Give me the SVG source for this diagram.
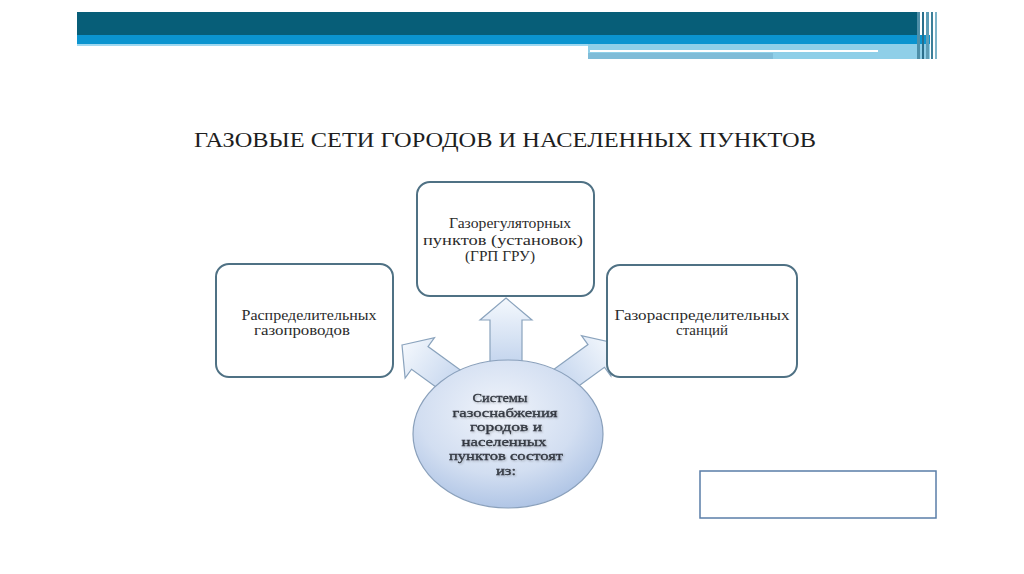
<svg xmlns="http://www.w3.org/2000/svg" width="1024" height="574" viewBox="0 0 1024 574">
<defs>
<style>
.box{fill:#ffffff;stroke:#4f7184;stroke-width:2}
.ttl{font-family:"Liberation Serif","DejaVu Serif","Times New Roman",serif;font-size:22px;fill:#1e1e1e;text-anchor:middle}
.t{font-family:"Liberation Serif","DejaVu Serif","Times New Roman",serif;font-size:14.5px;fill:#2b2b2b;text-anchor:middle}
.c{font-family:"Liberation Serif","DejaVu Serif","Times New Roman",serif;font-size:13px;fill:#353a43;stroke:#353a43;stroke-width:0.35;text-anchor:middle}
.arr{fill:url(#ag);stroke:#8aa3bd;stroke-width:1.2}
</style>
<linearGradient id="ag" x1="0" y1="0" x2="0" y2="1">
<stop offset="0" stop-color="#f4f8fd"/>
<stop offset="1" stop-color="#b9cdea"/>
</linearGradient>
<radialGradient id="cg" cx="0.45" cy="0.35" r="0.7">
<stop offset="0" stop-color="#f0f4fb"/>
<stop offset="0.6" stop-color="#d2def1"/>
<stop offset="1" stop-color="#a9c0e3"/>
</radialGradient>
<filter id="sh" x="-20%" y="-20%" width="140%" height="140%">
<feGaussianBlur in="SourceAlpha" stdDeviation="1"/>
<feOffset dx="1" dy="1.2"/>
<feComponentTransfer><feFuncA type="linear" slope="0.25"/></feComponentTransfer>
<feMerge><feMergeNode/><feMergeNode in="SourceGraphic"/></feMerge>
</filter>
<path id="arrUp" d="M0,0 L26,22 L16,22 L16,80 L-16,80 L-16,22 L-26,22 Z"/>
<path id="arrD" d="M0,0 L25,22 L14,22 L14,85 L-14,85 L-14,22 L-25,22 Z"/>
</defs>
<rect width="1024" height="574" fill="#ffffff"/>
<g id="header">
<rect x="77" y="12" width="840" height="23" fill="#075e78"/>
<rect x="77" y="35" width="853" height="9" fill="#0b94cf"/>
<rect x="77" y="44" width="511" height="2" fill="#9fd8f0"/>
<rect x="588" y="44" width="342" height="15" fill="#8fcfe8"/>
<rect x="590" y="50" width="288" height="2" fill="#ffffff"/>
<rect x="588" y="53" width="185" height="6" fill="#7fbcd8"/>
<rect x="917" y="12" width="3" height="47" fill="#4e8fa8"/>
<rect x="922" y="12" width="2" height="47" fill="#2a6f8c"/>
<rect x="926" y="12" width="3" height="47" fill="#5d9db6"/>
<rect x="931" y="12" width="2" height="47" fill="#3c7f99"/>
<rect x="935" y="12" width="2" height="47" fill="#7db4c9"/>
</g>
<text id="title" class="ttl" x="505" y="147" textLength="622" lengthAdjust="spacingAndGlyphs">ГАЗОВЫЕ СЕТИ ГОРОДОВ И НАСЕЛЕННЫХ ПУНКТОВ</text>
<g id="connectors">
<use href="#arrUp" class="arr" transform="translate(506,298)"/>
<use href="#arrD" class="arr" transform="translate(402,345) rotate(-54)"/>
<use href="#arrD" class="arr" transform="translate(614,343) rotate(54)"/>
</g>
<g id="node-grp">
<rect class="box" x="417" y="182" width="177" height="114" rx="13"/>
<text class="t" x="510" y="228" textLength="122" lengthAdjust="spacingAndGlyphs">Газорегуляторных</text>
<text class="t" x="503" y="245" textLength="160" lengthAdjust="spacingAndGlyphs">пунктов (установок)</text>
<text class="t" x="500" y="261" textLength="70" lengthAdjust="spacingAndGlyphs">(ГРП ГРУ)</text>
</g>
<g id="node-pipes">
<rect class="box" x="216" y="264" width="177" height="113" rx="13"/>
<text class="t" x="309" y="320" textLength="135" lengthAdjust="spacingAndGlyphs">Распределительных</text>
<text class="t" x="302" y="335" textLength="96" lengthAdjust="spacingAndGlyphs">газопроводов</text>
</g>
<g id="node-stations">
<rect class="box" x="607" y="265" width="190" height="112" rx="13"/>
<text class="t" x="702" y="320" textLength="175" lengthAdjust="spacingAndGlyphs">Газораспределительных</text>
<text class="t" x="702" y="335" textLength="52" lengthAdjust="spacingAndGlyphs">станций</text>
</g>
<g id="node-center">
<ellipse cx="508" cy="434" rx="95" ry="74" fill="url(#cg)" stroke="#8aa0bb" stroke-width="1.2"/>
<g filter="url(#sh)">
<text class="c" x="500" y="402" textLength="55" lengthAdjust="spacingAndGlyphs">Системы</text>
<text class="c" x="505" y="416.5" textLength="105" lengthAdjust="spacingAndGlyphs">газоснабжения</text>
<text class="c" x="506" y="431" textLength="72" lengthAdjust="spacingAndGlyphs">городов и</text>
<text class="c" x="504" y="445.5" textLength="85" lengthAdjust="spacingAndGlyphs">населенных</text>
<text class="c" x="506" y="460" textLength="114" lengthAdjust="spacingAndGlyphs">пунктов состоят</text>
<text class="c" x="506" y="474.5" textLength="20" lengthAdjust="spacingAndGlyphs">из:</text>
</g>
</g>
<g id="node-empty">
<rect x="700" y="471" width="236" height="47" fill="none" stroke="#5a7ea8" stroke-width="1.5"/>
</g>
</svg>
